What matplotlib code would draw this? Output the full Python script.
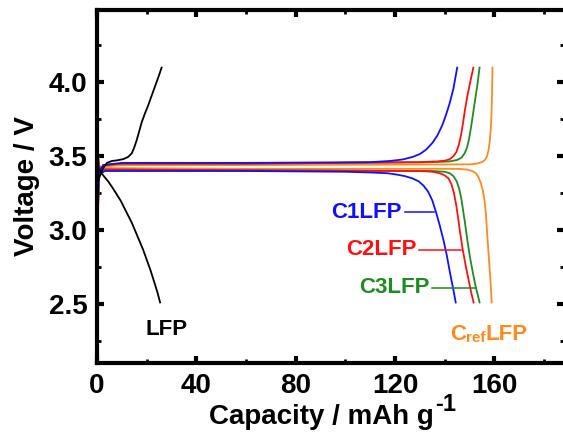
import matplotlib
matplotlib.use("Agg")
import matplotlib.pyplot as plt
from matplotlib.ticker import MultipleLocator

plt.rcParams['font.family'] = ['Liberation Sans', 'DejaVu Sans']
plt.rcParams['font.weight'] = 'bold'

# charge / discharge curves (capacity mAh/g, voltage V)
lfp_chg_x = [0, 1, 2.5, 4, 6, 8, 10.5, 12.5, 14, 15, 16, 17, 18, 19.3, 20.5, 22, 23.5, 25, 26]
lfp_chg_v = [3.30, 3.36, 3.42, 3.455, 3.468, 3.472, 3.48, 3.495, 3.52, 3.56, 3.61, 3.67,
             3.73, 3.79, 3.84, 3.91, 3.98, 4.05, 4.10]
lfp_dis_x = [0, 1.6, 3, 4.5, 6.5, 8, 9.5, 11, 12.5, 14, 15.5, 17, 18.5, 20, 21.5, 23, 24.3, 25.4]
lfp_dis_v = [3.44, 3.39, 3.36, 3.33, 3.28, 3.24, 3.20, 3.15, 3.10, 3.05, 2.99, 2.93, 2.87,
             2.80, 2.73, 2.65, 2.58, 2.51]

c1_chg_x = [0, 0.3, 0.7, 1.2, 2.5, 10, 60, 110, 118, 123, 127, 130, 132.5, 135, 137, 139,
            140.5, 142, 143.5, 145]
c1_chg_v = [2.62, 3.05, 3.35, 3.40, 3.44, 3.455, 3.455, 3.46, 3.468, 3.478, 3.495, 3.515,
            3.545, 3.59, 3.64, 3.71, 3.78, 3.86, 3.96, 4.10]
c1_dis_x = [0, 0.3, 0.8, 1.5, 3, 60, 100, 110, 117, 121, 124, 127, 129.5, 131.5, 133.3, 135,
            136.5, 138, 139.5, 140.8, 142, 143.3, 144.4]
c1_dis_v = [3.70, 3.48, 3.39, 3.38, 3.40, 3.40, 3.395, 3.39, 3.385, 3.375, 3.365, 3.35, 3.33,
            3.30, 3.26, 3.20, 3.12, 3.03, 2.93, 2.83, 2.72, 2.61, 2.51]

c2_chg_x = [0, 0.3, 0.7, 1.2, 2.5, 10, 60, 130, 137, 140, 142, 143.5, 144.7, 145.7, 146.5,
            147.3, 148, 149, 150.2, 151.5]
c2_chg_v = [2.68, 3.08, 3.35, 3.40, 3.44, 3.45, 3.45, 3.46, 3.465, 3.47, 3.48, 3.50, 3.53,
            3.58, 3.64, 3.72, 3.80, 3.90, 4.00, 4.10]
c2_dis_x = [0, 0.3, 0.8, 2, 60, 130, 135, 138, 140, 141.5, 142.7, 143.7, 144.6, 145.4, 146.2,
            147.2, 148.3, 149.5, 150.6, 151.6]
c2_dis_v = [3.72, 3.52, 3.43, 3.41, 3.405, 3.40, 3.395, 3.385, 3.37, 3.35, 3.31, 3.25, 3.17,
            3.08, 2.98, 2.87, 2.77, 2.67, 2.58, 2.51]

c3_chg_x = [0, 0.3, 0.7, 1.2, 2.5, 10, 60, 135, 142, 145, 146.7, 148, 149, 149.8, 150.6,
            151.4, 152.2, 153.1, 154]
c3_chg_v = [2.70, 3.10, 3.35, 3.40, 3.44, 3.45, 3.45, 3.46, 3.465, 3.475, 3.49, 3.52, 3.56,
            3.62, 3.70, 3.79, 3.88, 3.98, 4.10]
c3_dis_x = [0, 0.3, 0.8, 2, 60, 135, 140, 142, 143.5, 144.8, 145.8, 146.7, 147.5, 148.3,
            149.1, 150.1, 151.2, 152.4, 153.3, 154]
c3_dis_v = [3.75, 3.53, 3.43, 3.41, 3.405, 3.40, 3.395, 3.385, 3.365, 3.33, 3.28, 3.21, 3.12,
            3.03, 2.93, 2.82, 2.72, 2.62, 2.56, 2.51]

cref_chg_x = [0, 0.3, 0.7, 1.2, 2.5, 10, 60, 150, 153, 155, 156.2, 157, 157.6, 158.1, 158.5,
              158.8, 159, 159.2]
cref_chg_v = [2.68, 3.08, 3.33, 3.39, 3.43, 3.44, 3.44, 3.445, 3.45, 3.46, 3.475, 3.50, 3.54,
              3.60, 3.68, 3.78, 3.90, 4.10]
cref_dis_x = [0, 0.3, 0.8, 2, 60, 145, 149, 151, 152.5, 153.5, 154.5, 155.3, 156, 156.5,
              156.9, 157.3, 157.8, 158.3, 158.6, 158.9]
cref_dis_v = [3.78, 3.55, 3.44, 3.42, 3.415, 3.415, 3.41, 3.40, 3.385, 3.36, 3.32, 3.27, 3.20,
              3.12, 3.02, 2.92, 2.80, 2.68, 2.60, 2.51]

BLUE = '#1010ff'
RED = '#ff1010'
GREEN = '#1e8c1e'
ORANGE = '#ff8a1e'

fig = plt.figure(figsize=(5.63, 4.36), dpi=100)
ax = fig.add_axes([0.1723, 0.1674, 0.8295, 0.8096])

lw = 1.3
ax.plot(cref_chg_x, cref_chg_v, color=ORANGE, lw=lw)
ax.plot(cref_dis_x, cref_dis_v, color=ORANGE, lw=lw)
ax.plot(c3_chg_x, c3_chg_v, color=GREEN, lw=lw)
ax.plot(c3_dis_x, c3_dis_v, color=GREEN, lw=lw)
ax.plot(c2_chg_x, c2_chg_v, color=RED, lw=lw)
ax.plot(c2_dis_x, c2_dis_v, color=RED, lw=lw)
ax.plot(c1_chg_x, c1_chg_v, color=BLUE, lw=lw)
ax.plot(c1_dis_x, c1_dis_v, color=BLUE, lw=lw)
ax.plot(lfp_chg_x, lfp_chg_v, color='black', lw=lw)
ax.plot(lfp_dis_x, lfp_dis_v, color='black', lw=lw)

# labels with leader lines
tsize = 16
ax.plot([123.8, 135.5], [3.12, 3.12], color=BLUE, lw=1.1)
ax.text(122.5, 3.12, 'C1LFP', color=BLUE, fontsize=tsize, fontweight='bold',
        ha='right', va='center')
ax.plot([129.8, 146.4], [2.867, 2.867], color=RED, lw=1.1)
ax.text(128.5, 2.867, 'C2LFP', color=RED, fontsize=tsize, fontweight='bold',
        ha='right', va='center')
ax.plot([135.0, 152.4], [2.61, 2.61], color=GREEN, lw=1.1)
ax.text(133.7, 2.61, 'C3LFP', color=GREEN, fontsize=tsize, fontweight='bold',
        ha='right', va='center')

t1 = ax.text(142.3, 2.255, 'C', color=ORANGE, fontsize=tsize, fontweight='bold',
             ha='left', va='baseline')
t2 = ax.annotate('ref', xy=(1, 0), xycoords=t1, color=ORANGE, fontsize=11,
                 fontweight='bold', ha='left', va='bottom')
ax.annotate('LFP', xy=(1, 0), xycoords=t2, color=ORANGE, fontsize=tsize,
            fontweight='bold', ha='left', va='bottom')

ax.text(27.8, 2.33, 'LFP', color='black', fontsize=tsize, fontweight='bold',
        ha='center', va='center')

ax.set_xlim(0, 188)
ax.set_ylim(2.1, 4.49)
ax.xaxis.set_major_locator(MultipleLocator(40))
ax.xaxis.set_minor_locator(MultipleLocator(20))
ax.yaxis.set_major_locator(MultipleLocator(0.5))
ax.yaxis.set_minor_locator(MultipleLocator(0.25))
ax.yaxis.set_major_formatter(plt.FormatStrFormatter('%.1f'))

ax.tick_params(which='both', direction='in', top=True, right=True,
               labelsize=20, pad=7)
ax.tick_params(which='major', length=5, width=3)
ax.tick_params(which='minor', length=3, width=2)
for s in ax.spines.values():
    s.set_linewidth(3)

xl = ax.set_xlabel('Capacity / mAh g', fontsize=20, fontweight='bold', labelpad=4)
ax.xaxis.label.set_x(0.48)
ax.annotate('-1', xy=(1, 1), xycoords=xl, xytext=(1, 8), textcoords='offset points',
            fontsize=17, fontweight='bold', ha='left', va='top', annotation_clip=False)
ax.set_ylabel('Voltage / V', fontsize=20, fontweight='bold', labelpad=6)

fig.savefig('out.png', dpi=100)
